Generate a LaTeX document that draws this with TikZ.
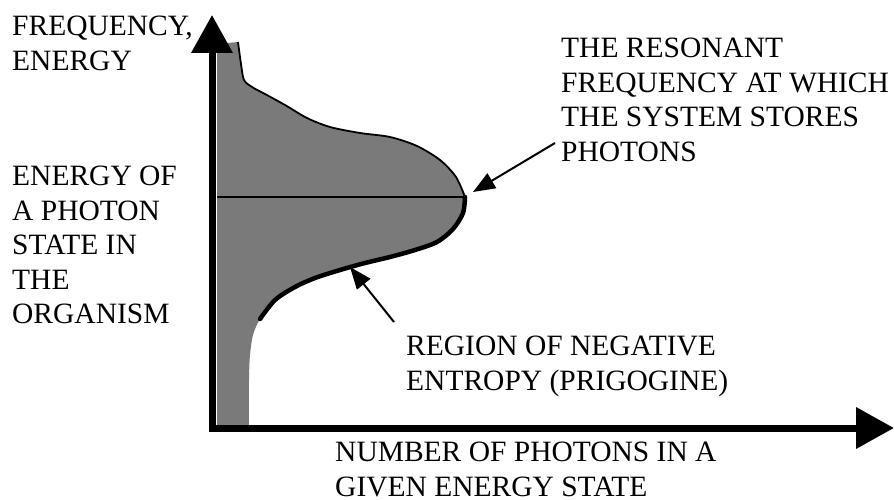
\documentclass[tikz,border=0pt]{standalone}
\usepackage{fontspec}
\setmainfont{Liberation Serif}
\usetikzlibrary{arrows.meta}
\tikzset{
  axis/.style={line width=7pt,-{Triangle[length=38pt,width=40pt]}},
  pointer/.style={line width=2pt,-{Triangle[length=22pt,width=17pt]}},
  caption/.style={anchor=north west,inner sep=0pt,align=left,
    font=\fontsize{29.5pt}{34.5pt}\selectfont},
  stipple/.style={fill=black!52}
}
\newcommand{\uppercurve}{(238,42) (241,64) (244,80) (252,87) (265,94) (285,105)
  (307,118) (330,127) (360,133) (390,137) (417,146) (440,160) (456,177) (465,197)}
\newcommand{\lowercurve}{(465,197) (463,213) (453,229) (437,242) (415,250) (390,257)
  (365,263) (340,270) (315,278) (295,287) (275,300) (260,319)}

\begin{document}
\begin{tikzpicture}[x=1pt,y=-1pt]
  \useasboundingbox (0,0) rectangle (894,500);
  \coordinate (origin) at (212,431.5);
  \coordinate (ytip) at (212,15);
  \coordinate (xtip) at (894,428);
  \coordinate (peak) at (465,197);
  \coordinate (crest) at (473,192);
  \coordinate (trough) at (350,267);
  % photon distribution
  \fill[stipple] (217,428) -- (217,44) -- plot[smooth] coordinates {\uppercurve}
    -- plot[smooth] coordinates {\lowercurve (253,335) (250,355) (249,380) (249,428)}
    -- cycle;
  \draw[line width=1.8pt] plot[smooth] coordinates {\uppercurve};
  \draw[line width=4.5pt,line cap=round] plot[smooth] coordinates {\lowercurve};
  \draw[line width=1.5pt] (217,197) -- (peak);
  % axes
  \draw[axis] (origin) -- (ytip);
  \draw[axis] ([xshift=-3.5pt]origin |- xtip) -- (xtip);
  % labels
  \node[caption] (freq) at (12,16) {FREQUENCY,\\ENERGY};
  \node[caption] (state) at (12,166) {ENERGY OF\\A PHOTON\\STATE IN\\THE\\ORGANISM};
  \node[caption] (res) at (561,38) {THE RESONANT\\FREQUENCY AT WHICH\\THE SYSTEM STORES\\PHOTONS};
  \node[caption] (reg) at (406,336) {REGION OF NEGATIVE\\ENTROPY (PRIGOGINE)};
  \node[caption] (num) at (335,442) {NUMBER OF PHOTONS IN A\\GIVEN ENERGY STATE};
  \draw[pointer] ([shift={(-6,105)}]res.north west) -- (crest);
  \draw[pointer] ([shift={(-12,-14)}]reg.north west) -- (trough);
\end{tikzpicture}
\end{document}
